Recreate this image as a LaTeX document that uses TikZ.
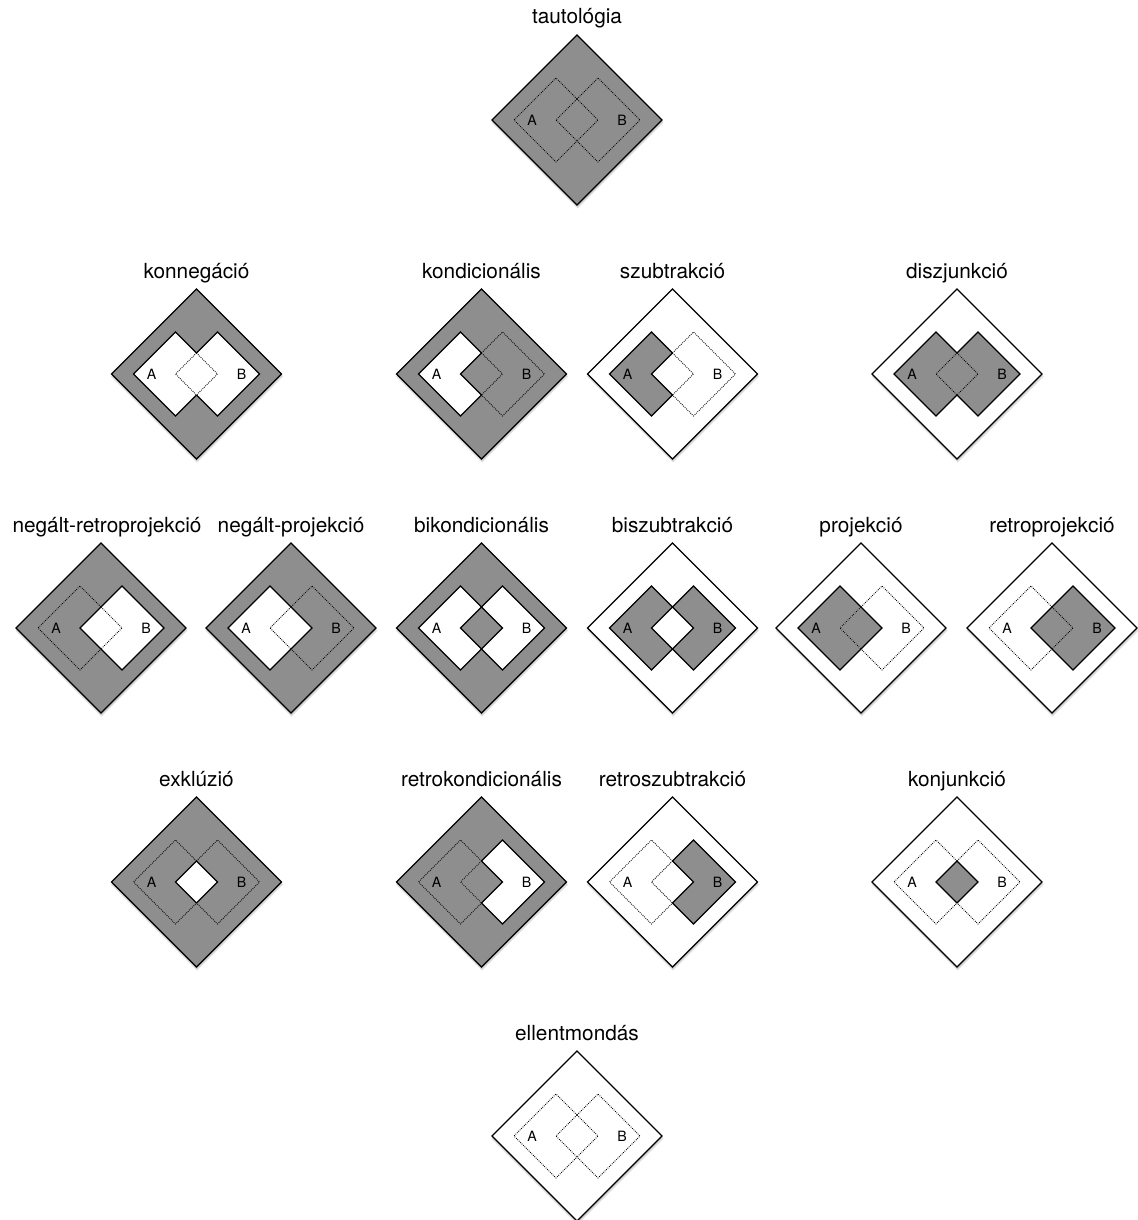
\documentclass[tikz,border=0pt]{standalone}
\usepackage{fontspec}
\setmainfont{TeX Gyre Heros}
\definecolor{cg}{RGB}{142,142,142}
\definecolor{cw}{RGB}{255,255,255}
\tikzset{
 solidline/.style={draw=black, line width=0.55pt, line join=miter},
 dotline/.style={draw=black, line width=0.42pt, dash pattern=on 0.42pt off 0.58pt},
 outerline/.style={draw=black, line width=0.6pt, line join=miter},
 lab/.style={font=\fontsize{10.4pt}{12pt}\selectfont, anchor=base, inner sep=0pt},
 letter/.style={font=\fontsize{7.1pt}{8pt}\selectfont, inner sep=0pt},
}
\newcommand{\segstyle}[3]{\def\tmpx{#2}\def\tmpy{#3}\ifx\tmpx\tmpy\tikzset{#1/.style={dotline}}\else\tikzset{#1/.style={solidline}}\fi}
\def\labdx{0}
% #1 name, #2 cx, #3 cy, #4 label, #5 outside, #6 A only, #7 A and B, #8 B only
\newcommand{\lcell}[8]{%
\begin{scope}[shift={(#2,#3)}]
 \fill[black,opacity=0.12] (0.5,-83.5) -- (86.5,2.5) -- (0.5,88.5) -- (-85.5,2.5) -- cycle;
 \fill[black,opacity=0.15] (0.3,-84) -- (85.5,1.2) -- (0.3,86.8) -- (-85,1.2) -- cycle;
 \path[fill=#5, outerline] (0,-85) -- (85,0) -- (0,85) -- (-85,0) -- cycle;
 \fill[#6] (-63,0) -- (-21,-42) -- (21,0) -- (-21,42) -- cycle;
 \fill[#8] (-21,0) -- (21,-42) -- (63,0) -- (21,42) -- cycle;
 \fill[#7] (-21,0) -- (0,-21) -- (21,0) -- (0,21) -- cycle;
 \segstyle{aout}{#6}{#5}\segstyle{ain}{#7}{#8}\segstyle{bout}{#8}{#5}\segstyle{bin}{#7}{#6}%
 \draw[aout] (0,-21) -- (-21,-42) -- (-63,0) -- (-21,42) -- (0,21);
 \draw[bout] (0,-21) -- (21,-42) -- (63,0) -- (21,42) -- (0,21);
 \draw[ain] (0,-21) -- (21,0) -- (0,21);
 \draw[bin] (0,-21) -- (-21,0) -- (0,21);
 \node[lab] (#1-label) at (\labdx,-96) {#4};
 \node[letter] (#1-A) at (-45,0) {A};
 \node[letter] (#1-B) at (45,0) {B};
\end{scope}}
\begin{document}
\begin{tikzpicture}[x=0.5pt,y=-0.5pt]
\useasboundingbox[fill=white] (0,0) rectangle (1137,1220);
\lcell{taut}{577}{120}{tautológia}{cg}{cg}{cg}{cg}
\lcell{konneg}{196.5}{374}{konnegáció}{cg}{cw}{cw}{cw}
\lcell{kond}{481.5}{374}{kondicionális}{cg}{cw}{cg}{cg}
\lcell{szubtr}{672.5}{374}{szubtrakció}{cw}{cg}{cw}{cw}
\lcell{diszj}{957}{374}{diszjunkció}{cw}{cg}{cg}{cg}
\def\labdx{6}
\lcell{negretro}{101}{628}{negált-retroprojekció}{cg}{cg}{cw}{cw}
\def\labdx{0}
\lcell{negproj}{291}{628}{negált-projekció}{cg}{cw}{cw}{cg}
\lcell{bikond}{481.5}{628}{bikondicionális}{cg}{cw}{cg}{cw}
\lcell{biszubtr}{672.5}{628}{biszubtrakció}{cw}{cg}{cw}{cg}
\lcell{proj}{861}{628}{projekció}{cw}{cg}{cg}{cw}
\lcell{retroproj}{1052}{628}{retroprojekció}{cw}{cw}{cg}{cg}
\lcell{exkl}{196.5}{882}{exklúzió}{cg}{cg}{cw}{cg}
\lcell{retrokond}{481.5}{882}{retrokondicionális}{cg}{cg}{cg}{cw}
\lcell{retroszubtr}{672.5}{882}{retroszubtrakció}{cw}{cw}{cw}{cg}
\lcell{konj}{957}{882}{konjunkció}{cw}{cw}{cg}{cw}
\lcell{ellent}{577}{1136}{ellentmondás}{cw}{cw}{cw}{cw}
\end{tikzpicture}
\end{document}
